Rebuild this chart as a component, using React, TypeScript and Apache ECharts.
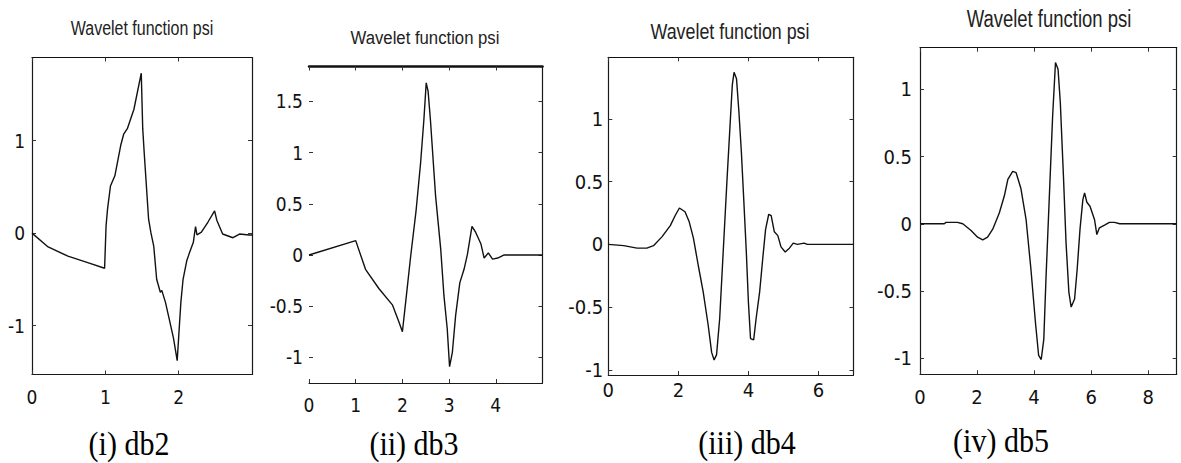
import React, { useEffect, useRef } from "react";
import * as echarts from "echarts";

// ---- data ----
const db2X = [0, 0.22, 0.49, 0.76, 0.99, 1.01, 1.03, 1.07, 1.13, 1.21, 1.25, 1.3, 1.39, 1.49, 1.51, 1.53, 1.59, 1.62, 1.66, 1.7, 1.75, 1.77, 1.82, 1.86, 1.93, 1.98, 2.01, 2.03, 2.06, 2.11, 2.14, 2.2, 2.23, 2.25, 2.31, 2.4, 2.49, 2.52, 2.6, 2.74, 2.83, 2.96, 3.0];
const db2Psi = [0, -0.15, -0.25, -0.32, -0.38, 0.08, 0.26, 0.51, 0.62, 0.95, 1.07, 1.13, 1.34, 1.73, 1.13, 0.87, 0.15, 0.01, -0.14, -0.5, -0.64, -0.62, -0.75, -0.89, -1.14, -1.38, -1.0, -0.75, -0.5, -0.3, -0.23, -0.1, 0.07, -0.02, 0.01, 0.12, 0.24, 0.14, -0.01, -0.05, -0.01, -0.02, -0.02];

const db3X = [0, 1.0, 1.21, 1.5, 1.79, 1.93, 2.0, 2.07, 2.18, 2.29, 2.39, 2.46, 2.51, 2.55, 2.6, 2.71, 2.82, 2.89, 2.96, 3.01, 3.07, 3.14, 3.23, 3.32, 3.39, 3.49, 3.57, 3.68, 3.75, 3.84, 3.93, 4.04, 4.18, 4.36, 5.0];
const db3Psi = [0, 0.14, -0.14, -0.33, -0.49, -0.66, -0.75, -0.46, 0, 0.42, 0.9, 1.32, 1.68, 1.6, 1.32, 0.58, 0.06, -0.4, -0.72, -1.09, -0.95, -0.59, -0.27, -0.14, 0, 0.28, 0.22, 0.11, -0.03, 0.02, -0.04, -0.03, 0, 0, 0];

const db4X = [0, 0.44, 0.82, 1.1, 1.29, 1.53, 1.77, 1.91, 2.03, 2.19, 2.31, 2.43, 2.57, 2.71, 2.85, 2.95, 3.02, 3.09, 3.18, 3.28, 3.39, 3.47, 3.54, 3.59, 3.66, 3.73, 3.8, 3.87, 3.94, 4.0, 4.06, 4.15, 4.22, 4.32, 4.41, 4.49, 4.58, 4.65, 4.74, 4.84, 4.93, 5.05, 5.17, 5.28, 5.4, 5.59, 5.68, 7.0];
const db4Psi = [0, -0.01, -0.03, -0.03, -0.01, 0.06, 0.15, 0.23, 0.29, 0.26, 0.18, 0.05, -0.17, -0.38, -0.64, -0.86, -0.92, -0.88, -0.59, -0.06, 0.52, 0.92, 1.27, 1.37, 1.32, 1.05, 0.73, 0.34, -0.06, -0.46, -0.75, -0.76, -0.59, -0.38, -0.11, 0.12, 0.24, 0.23, 0.1, 0.07, -0.02, -0.06, -0.03, 0.01, 0, 0.01, 0, 0];

const db5X = [0, 0.85, 0.91, 1.31, 1.5, 1.79, 2.02, 2.2, 2.37, 2.55, 2.78, 2.96, 3.08, 3.25, 3.37, 3.54, 3.72, 3.89, 4.05, 4.16, 4.25, 4.34, 4.42, 4.54, 4.65, 4.75, 4.84, 4.92, 5.03, 5.12, 5.22, 5.3, 5.42, 5.51, 5.61, 5.71, 5.77, 5.85, 5.96, 6.12, 6.2, 6.29, 6.47, 6.64, 6.82, 7.0, 9.0];
const db5Psi = [0, 0, 0.01, 0.01, 0, -0.05, -0.1, -0.12, -0.1, -0.04, 0.08, 0.21, 0.33, 0.39, 0.38, 0.26, 0.03, -0.34, -0.74, -0.98, -1.01, -0.86, -0.39, 0.23, 0.8, 1.2, 1.15, 0.9, 0.35, -0.14, -0.51, -0.62, -0.56, -0.34, -0.04, 0.18, 0.23, 0.16, 0.13, 0.03, -0.08, -0.03, -0.01, 0.01, 0.01, 0, 0];

const db2XTicks = [0, 1, 2];
const db2YTicks = [-1, 0, 1];
const db3XTicks = [0, 1, 2, 3, 4];
const db3YTicks = [-1, -0.5, 0, 0.5, 1, 1.5];
const db4XTicks = [0, 2, 4, 6];
const db4YTicks = [-1, -0.5, 0, 0.5, 1];
const db5XTicks = [0, 2, 4, 6, 8];
const db5YTicks = [-1, -0.5, 0, 0.5, 1];

const titles = ["Wavelet function psi", "Wavelet function psi", "Wavelet function psi", "Wavelet function psi"];
const captions = ["(i) db2", "(ii) db3", "(iii) db4", "(iv) db5"];

const TICKFONT = "'DejaVu Sans Condensed', 'Liberation Sans', sans-serif";
const TITLEFONT = "'Liberation Sans', Arial, sans-serif";
const SERIF = "'Liberation Serif', 'Times New Roman', serif";

const panels = [
  { xs: db2X, ys: db2Psi, xMax: 3, yMin: -1.53, yMax: 1.9, xTicks: db2XTicks, yTicks: db2YTicks,
    grid: { left: 32, top: 57.5, width: 220, height: 317 }, fs: 19, xm: 13, ym: 7, leftLine: true, topW: 1.2,
    title: { x: 142, y: 28, fs: 20, sx: 0.8, sy: 1.05 }, cap: { x: 129, y: 444 } },
  { xs: db3X, ys: db3Psi, xMax: 5, yMin: -1.25, yMax: 1.84, xTicks: db3XTicks, yTicks: db3YTicks,
    grid: { left: 309, top: 66.5, width: 233.5, height: 316.5 }, fs: 19, xm: 12, ym: 6, leftLine: false, topW: 2.5,
    title: { x: 425, y: 38, fs: 19, sx: 0.88, sy: 1.0 }, cap: { x: 414, y: 444 } },
  { xs: db4X, ys: db4Psi, xMax: 7, yMin: -1.04, yMax: 1.49, xTicks: db4XTicks, yTicks: db4YTicks,
    grid: { left: 608.3, top: 57.3, width: 245.2, height: 317.7 }, fs: 20, xm: 5, ym: 5, leftLine: true, topW: 1.2,
    title: { x: 730, y: 31.5, fs: 21, sx: 0.85, sy: 1.05 }, cap: { x: 747, y: 443 } },
  { xs: db5X, ys: db5Psi, xMax: 9, yMin: -1.12, yMax: 1.31, xTicks: db5XTicks, yTicks: db5YTicks,
    grid: { left: 920, top: 47.7, width: 256.7, height: 326.6 }, fs: 20, xm: 13, ym: 8, leftLine: true, topW: 1.2,
    title: { x: 1049, y: 18.5, fs: 22, sx: 0.84, sy: 1.05 }, cap: { x: 1001, y: 441 } },
];

const fmt = (v: number) => String(v);

function buildOption() {
  const grid: any[] = [];
  const xAxis: any[] = [];
  const yAxis: any[] = [];
  const series: any[] = [];
  const graphic: any[] = [];
  panels.forEach((p, i) => {
    grid.push({ ...p.grid, containLabel: false, show: false });
    const line = { show: true, onZero: false, lineStyle: { color: "#1a1a1a", width: 1.2 } };
    const tick = (vals: number[]) => ({ show: true, inside: true, length: 4, customValues: vals, lineStyle: { color: "#333", width: 1 } });
    const lab = (vals: number[], margin: number) => ({
      show: true, customValues: vals, margin, fontSize: p.fs, fontFamily: TICKFONT, color: "#111", formatter: fmt,
    });
    xAxis.push({ type: "value", gridIndex: i, position: "bottom", min: 0, max: p.xMax,
      axisLine: line, axisTick: tick(p.xTicks), axisLabel: lab(p.xTicks, p.xm), splitLine: { show: false } });
    xAxis.push({ type: "value", gridIndex: i, position: "top", min: 0, max: p.xMax,
      axisLine: { show: true, onZero: false, lineStyle: { color: "#111", width: p.topW } },
      axisTick: tick(p.xTicks), axisLabel: { show: false }, splitLine: { show: false } });
    yAxis.push({ type: "value", gridIndex: i, position: "left", min: p.yMin, max: p.yMax,
      axisLine: { ...line, show: p.leftLine }, axisTick: tick(p.yTicks), axisLabel: lab(p.yTicks, p.ym), splitLine: { show: false } });
    yAxis.push({ type: "value", gridIndex: i, position: "right", min: p.yMin, max: p.yMax,
      axisLine: line, axisTick: tick(p.yTicks), axisLabel: { show: false }, splitLine: { show: false } });
    series.push({
      type: "line", xAxisIndex: 2 * i, yAxisIndex: 2 * i, showSymbol: false, symbol: "none",
      data: p.xs.map((x, k) => [x, p.ys[k]]), lineStyle: { color: "#111", width: 1.4 }, clip: true,
    });
    graphic.push({ type: "text", x: p.title.x, y: p.title.y, scaleX: p.title.sx, scaleY: p.title.sy, style: {
      text: titles[i], fontSize: p.title.fs, fontFamily: TITLEFONT, fill: "#222",
      align: "center", verticalAlign: "middle", textAlign: "center", textVerticalAlign: "middle" } });
    graphic.push({ type: "text", x: p.cap.x, y: p.cap.y, scaleY: 1.1, style: {
      text: captions[i], fontSize: 30, fontFamily: SERIF, fill: "#000",
      align: "center", verticalAlign: "middle", textAlign: "center", textVerticalAlign: "middle" } });
  });
  return { animation: false, backgroundColor: "#ffffff", grid, xAxis, yAxis, series, graphic };
}

export default function App() {
  const ref = useRef<HTMLDivElement>(null);
  useEffect(() => {
    document.body.style.margin = "0";
    const chart = echarts.init(ref.current!, null, { renderer: "svg" });
    chart.setOption(buildOption() as any);
    return () => chart.dispose();
  }, []);
  return <div ref={ref} style={{ width: 1181, height: 463 }} />;
}
